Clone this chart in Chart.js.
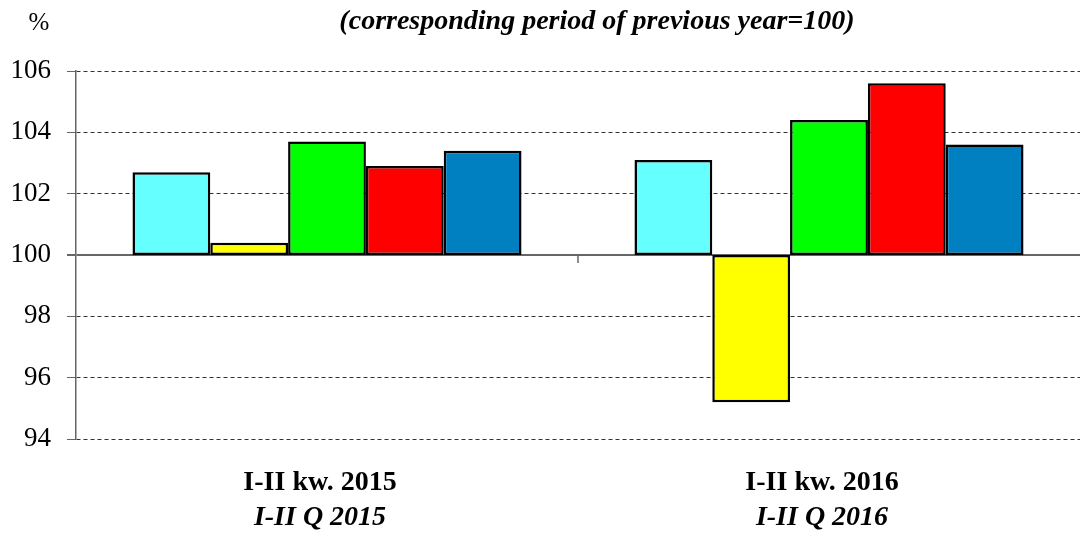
<!DOCTYPE html>
<html>
<head>
<meta charset="utf-8">
<script src="https://cdn.jsdelivr.net/npm/chart.js@4/dist/chart.umd.min.js"></script>
<style>
  html, body { margin: 0; padding: 0; background: #fff; }
  #wrap { width: 1083px; height: 536px; }
</style>
</head>
<body>
<div id="wrap"><canvas id="grafico" width="1083" height="536"></canvas></div>
<script>
// Datos (rok poprzedni = 100)
const okresyPL = ["I-II kw. 2015", "I-II kw. 2016"];
const okresyEN = ["I-II Q 2015", "I-II Q 2016"];
const seria1 = [102.7, 103.1]; // turkusowy
const seria2 = [100.4, 95.2];  // żółty
const seria3 = [103.7, 104.4]; // zielony
const seria4 = [102.9, 105.6]; // czerwony
const seria5 = [103.4, 103.6]; // niebieski
const kolory = ["#66FFFF", "#FFFF00", "#00FF00", "#FF0000", "#0080C0"];
const ticksY = [94, 96, 98, 100, 102, 104, 106];
const BAZA = 100;

const serif = "'Liberation Serif', 'Times New Roman', serif";

// słupki rysowane od 100 w górę lub w dół
function zBazy(arr) {
  return arr.map(v => [BAZA, v]);
}

const datasets = [seria1, seria2, seria3, seria4, seria5].map((s, i) => ({
  data: zBazy(s),
  backgroundColor: kolory[i],
  borderColor: "#000",
  borderWidth: 2.5,
  borderSkipped: false,
  categoryPercentage: 0.775,
  barPercentage: 1.0
}));

// tytuł, znak %, podpisy osi X (dwie linie) i kreska między kategoriami
const dodatki = {
  id: "dodatki",
  afterDraw(chart) {
    const { ctx, scales } = chart;
    ctx.save();
    ctx.fillStyle = "#000";
    ctx.textBaseline = "alphabetic";
    ctx.textAlign = "center";
    ctx.font = "italic bold 28px " + serif;
    ctx.fillText("(corresponding period of previous year=100)", 597, 29);
    ctx.font = "25px " + serif;
    ctx.fillText("%", 39, 30);

    okresyPL.forEach((lab, i) => {
      const x = scales.x.getPixelForValue(i);
      ctx.font = "bold 28px " + serif;
      ctx.fillText(lab, x - 7, 490);
      ctx.font = "italic bold 28px " + serif;
      ctx.fillText(okresyEN[i], x - 7, 525);
    });

    const x = (scales.x.getPixelForValue(0) + scales.x.getPixelForValue(1)) / 2;
    const y = scales.y.getPixelForValue(BAZA);
    ctx.strokeStyle = "#666";
    ctx.lineWidth = 1.5;
    ctx.beginPath();
    ctx.moveTo(x, y);
    ctx.lineTo(x, y + 8);
    ctx.stroke();
    ctx.restore();
  }
};

new Chart(document.getElementById("grafico"), {
  type: "bar",
  data: { labels: okresyPL, datasets },
  plugins: [dodatki],
  options: {
    responsive: false,
    animation: false,
    layout: { padding: { top: 71, right: 3, left: 0, bottom: 97 } },
    plugins: { legend: { display: false }, tooltip: { enabled: false } },
    scales: {
      x: {
        grid: { display: false, drawTicks: false },
        border: { display: false },
        ticks: { display: false }
      },
      y: {
        min: ticksY[0],
        max: ticksY[ticksY.length - 1],
        afterBuildTicks: axis => { axis.ticks = ticksY.map(v => ({ value: v })); },
        afterFit: axis => { axis.width = 76; },
        border: {
          color: "#666",
          width: 1.5,
          dash: c => (c.tick && c.tick.value === BAZA ? [] : [4, 3])
        },
        grid: {
          color: c => (c.tick && c.tick.value === BAZA ? "#666" : "#333"),
          lineWidth: c => (c.tick && c.tick.value === BAZA ? 2 : 1),
          tickLength: 9,
          tickColor: "#666"
        },
        ticks: { color: "#000", padding: 16, font: { family: serif, size: 27 } }
      }
    }
  }
});
</script>
</body>
</html>
